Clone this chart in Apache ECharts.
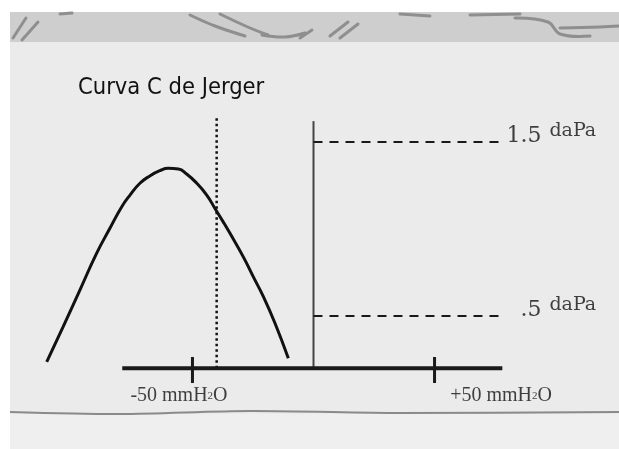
<!DOCTYPE html>
<html>
<head>
<meta charset="utf-8">
<title>Curva C de Jerger</title>
<script src="https://cdn.jsdelivr.net/npm/echarts@6/dist/echarts.min.js"></script>
<style>
  html, body { margin: 0; padding: 0; background: #fff; }
  #main { width: 619px; height: 449px; }
</style>
</head>
<body>
<div id="main"></div>
<script>
// tympanogram, pressure in mmH2O vs compliance
const pressure = [-110.2, -103.4, -96.5, -89.6, -84.1, -79.2, -75.8, -71.7, -67.6, -63.5, -60, -55.8, -52.4, -48.2, -44.1, -40.7, -37.3, -34.5, -29, -24.9, -20.7, -15.9, -10.4];
const compliance = [0.237, 0.439, 0.649, 0.86, 1.004, 1.128, 1.195, 1.263, 1.305, 1.335, 1.349, 1.345, 1.316, 1.263, 1.195, 1.118, 1.041, 0.975, 0.84, 0.726, 0.611, 0.458, 0.257];

const tickValues = [-50, 50];
const tickLabels = ['-50 mmH{s|2}O', '+50 mmH{s|2}O'];
const tickSpan = [0.115, 0.265];

const refLevels = [1.5, 0.5];
const refLabels = ['1.5', '.5'];
const refUnit = 'daPa';
const refLineEnd = 77;

const axisRange = [-79, 78];
const baseLevel = 0.2;
const zeroLineTop = 1.62;
const peakPressure = -40;
const peakLineTop = 1.64;

const serif = '"DejaVu Serif", serif';
const times = '"Liberation Serif", "Times New Roman", serif';

var chart = echarts.init(document.getElementById('main'));

function seg(points, style, z) {
	return {
		type: 'line',
		data: points,
		symbol: 'none',
		silent: true,
		z: z || 2,
		lineStyle: style,
	};
}

var series = [];

// the curve
series.push({
	type: 'line',
	data: pressure.map((p, i) => [p, compliance[i]]),
	smooth: 0.5,
	symbol: 'none',
	z: 5,
	lineStyle: { color: '#111', width: 3 },
});

// pressure axis and its ticks
series.push(seg([[axisRange[0], baseLevel], [axisRange[1], baseLevel]], { color: '#1a1a1a', width: 4 }, 4));
tickValues.forEach((t) => {
	series.push(seg([[t, tickSpan[0]], [t, tickSpan[1]]], { color: '#1a1a1a', width: 3 }, 4));
});

// zero pressure line
series.push(seg([[0, baseLevel], [0, zeroLineTop]], { color: '#444', width: 2 }));

// dotted line at the peak side
series.push(seg([[peakPressure, baseLevel], [peakPressure, peakLineTop]], { color: '#111', width: 2.5, type: [2.5, 3] }));

// dashed reference levels
refLevels.forEach((lv) => {
	series.push(seg([[0, lv], [refLineEnd, lv]], { color: '#1a1a1a', width: 2, type: [9, 7] }));
});

// tick labels
series.push({
	type: 'scatter',
	symbolSize: 1,
	silent: true,
	itemStyle: { color: 'rgba(0,0,0,0)' },
	data: tickValues.map((t, i) => ({
		value: [t, baseLevel],
		label: { formatter: tickLabels[i], position: i === 0 ? [-13, 28] : [67, 28] },
	})),
	label: {
		show: true,
		align: 'center',
		verticalAlign: 'middle',
		fontFamily: times,
		fontSize: 20,
		color: '#111',
		rich: { s: { fontFamily: times, fontSize: 11, color: '#111' } },
	},
});

// reference level numbers and units
series.push({
	type: 'scatter',
	symbolSize: 1,
	silent: true,
	itemStyle: { color: 'rgba(0,0,0,0)' },
	data: refLevels.map((lv, i) => ({ value: [refLineEnd, lv], label: { formatter: refLabels[i] } })),
	label: {
		show: true,
		position: [42, -5],
		align: 'right',
		verticalAlign: 'middle',
		fontFamily: serif,
		fontSize: 22,
		color: '#111',
	},
});
series.push({
	type: 'scatter',
	symbolSize: 1,
	silent: true,
	itemStyle: { color: 'rgba(0,0,0,0)' },
	data: refLevels.map((lv) => ({ value: [refLineEnd, lv], label: { formatter: refUnit } })),
	label: {
		show: true,
		position: [50, -10],
		align: 'left',
		verticalAlign: 'middle',
		fontFamily: serif,
		fontSize: 19,
		color: '#111',
	},
});

// paper background and the torn top band
var band = '#8f8f8f';
var graphic = [
	{ type: 'rect', z: -20, shape: { x: 10, y: 12, width: 609, height: 437 }, style: { fill: '#ebebeb' } },
	{ type: 'rect', z: -19, shape: { x: 10, y: 414, width: 609, height: 35 }, style: { fill: '#efefef' } },
	{ type: 'rect', z: -19, shape: { x: 10, y: 12, width: 609, height: 30 }, style: { fill: '#cecece' } },
	{ type: 'polyline', z: -18, shape: { points: [[10, 412], [120, 414], [250, 411], [400, 413], [619, 412]], smooth: 0.3 }, style: { stroke: '#8a8a8a', lineWidth: 2, fill: null } },
];
[
	[[13, 38], [26, 18]],
	[[22, 40], [38, 22]],
	[[60, 14], [72, 13]],
	[[190, 15], [215, 26], [245, 36]],
	[[220, 14], [250, 28], [268, 35]],
	[[262, 35], [285, 37], [305, 33]],
	[[300, 38], [312, 30]],
	[[330, 36], [348, 22]],
	[[340, 38], [358, 24]],
	[[400, 14], [430, 16]],
	[[470, 15], [520, 14]],
	[[515, 18], [548, 22], [560, 34], [590, 36]],
	[[560, 28], [600, 27], [619, 26]],
].forEach((pts) => {
	graphic.push({ type: 'polyline', z: -18, shape: { points: pts, smooth: 0.4 }, style: { stroke: band, lineWidth: 3, fill: null, lineCap: 'round' } });
});

var option = {
	animation: false,
	title: {
		text: 'Curva C de Jerger',
		left: 73,
		top: 71,
		textStyle: {
			fontFamily: '"Liberation Sans Narrow", "DejaVu Sans Condensed", sans-serif',
			fontSize: 23.5,
			fontWeight: 'normal',
			color: '#111',
		},
	},
	graphic: graphic,
	grid: { left: 23, width: 581, top: 55, height: 348 },
	xAxis: { type: 'value', min: -120, max: 120, show: false },
	yAxis: { type: 'value', min: 0, max: 2, show: false },
	series: series,
};

option && chart.setOption(option);
</script>
</body>
</html>
